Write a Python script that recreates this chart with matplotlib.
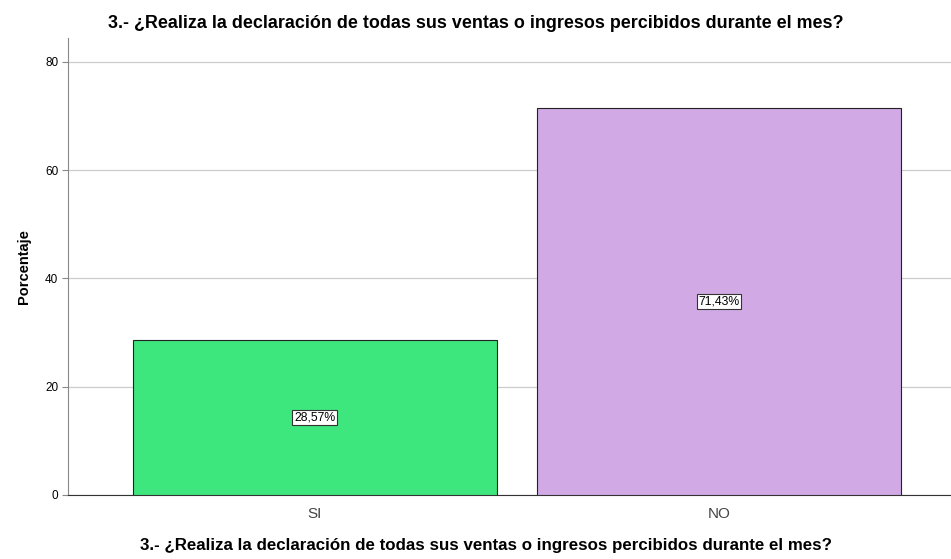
import matplotlib.pyplot as plt

categories = ['SI', 'NO']
porcentajes = [28.57, 71.43]
etiquetas = ['28,57%', '71,43%']
colores = ['#3EE67E', '#D1A9E5']
titulo = '3.- ¿Realiza la declaración de todas sus ventas o ingresos percibidos durante el mes?'

plt.rcParams['font.family'] = ['Liberation Sans', 'DejaVu Sans']

fig = plt.figure(figsize=(9.51, 5.59), dpi=100)
ax = fig.add_axes([0.0715, 0.1145, 0.9285, 0.8175])

x = range(len(categories))
bars = ax.bar(x, porcentajes, width=0.9, color=colores, edgecolor='#222222', linewidth=0.8, zorder=3)

for b, lab in zip(bars, etiquetas):
    ax.text(b.get_x() + b.get_width() / 2, b.get_height() / 2, lab,
            ha='center', va='center', fontsize=8.8, zorder=4,
            bbox=dict(boxstyle='square,pad=0.15', facecolor='white', edgecolor='#333333', linewidth=0.8))

ax.set_xlim(-0.611, 1.574)
ax.set_ylim(0, 84.4)
ax.set_yticks([0, 20, 40, 60, 80])
ax.set_xticks(list(x))
ax.set_xticklabels(categories, fontsize=11, color='#444444')
ax.tick_params(axis='x', length=0, pad=9)
ax.tick_params(axis='y', labelsize=8.5, length=4, color='#888888', pad=3)
ax.grid(axis='y', color='#cccccc', linewidth=0.9, zorder=0)

for s in ['top', 'right']:
    ax.spines[s].set_visible(False)
ax.spines['left'].set_color('#888888')
ax.spines['bottom'].set_color('#333333')

ax.set_ylabel('Porcentaje', fontsize=10.5, fontweight='bold', labelpad=10)
ax.set_xlabel(titulo, fontsize=12.2, fontweight='bold', labelpad=17)
ax.xaxis.set_label_coords(0.473, -0.095)
fig.suptitle(titulo, fontsize=12.9, fontweight='bold', y=0.974, x=0.5)

fig.savefig('out.png', dpi=100)
